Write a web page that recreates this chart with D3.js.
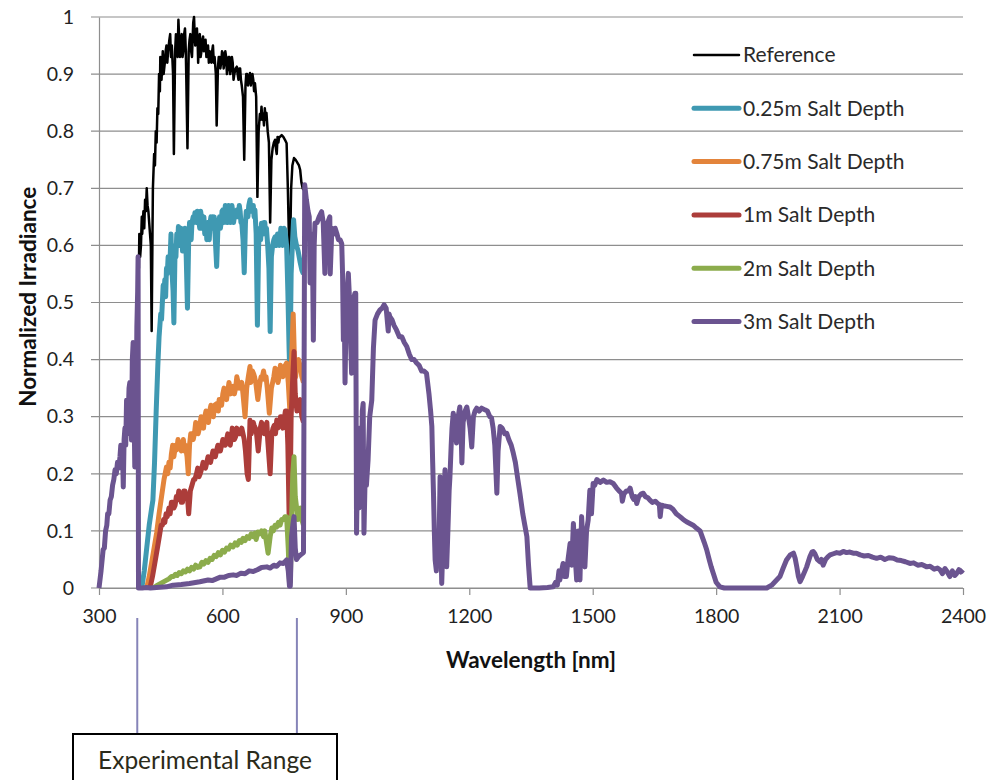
<!DOCTYPE html>
<html><head><meta charset="utf-8">
<script src="https://cdn.jsdelivr.net/npm/d3@7"></script>
<style>body{margin:0;background:#fff}svg{display:block}text{font-family:Lato,"Open Sans",sans-serif}</style>
</head><body>
<svg id="c" width="994" height="780"></svg>
<script>
const xTicks = [300,600,900,1200,1500,1800,2100,2400];
const yTicks = [0,0.1,0.2,0.3,0.4,0.5,0.6,0.7,0.8,0.9,1];
const seriesNames = ["Reference","0.25m Salt Depth","0.75m Salt Depth","1m Salt Depth","2m Salt Depth","3m Salt Depth"];
const seriesColors = ["#000000","#3f99b2","#e3843b","#ac3d3a","#8cac4c","#6b5490"];
const seriesWidths = [2.5,5,5,5,5,5];
const rangeBounds = [393,781];
const rangeLabel = "Experimental Range";

const reference = [[395,0.58],[397,0.56],[398,0.62],[400,0.58],[402,0.60],[404,0.65],[405,0.62],[408,0.66],[410,0.63],[412,0.68],[414,0.66],[416,0.70],[418,0.67],[420,0.66],[422,0.64],[424,0.62],[426,0.60],[428,0.45],[430,0.62],[431,0.70],[434,0.76],[436,0.74],[438,0.80],[440,0.78],[442,0.84],[444,0.83],[446,0.90],[448,0.87],[449,0.93],[451,0.91],[452,0.89],[455,0.94],[457,0.90],[460,0.92],[462,0.94],[464,0.95],[466,0.92],[468,0.94],[471,0.96],[473,0.97],[475,0.93],[477,0.95],[480,0.90],[482,0.76],[485,0.94],[487,0.97],[489,0.96],[491,0.93],[493,0.995],[495,0.96],[497,0.93],[499,0.96],[501,0.97],[503,0.93],[505,0.94],[507,0.97],[509,0.98],[511,0.94],[512,0.90],[515,0.77],[518,0.94],[520,0.96],[522,0.97],[524,0.94],[526,0.93],[529,0.99],[531,1.0],[533,0.96],[534,0.95],[536,0.97],[538,0.98],[540,0.95],[541,0.92],[543,0.96],[545,0.97],[547,0.93],[549,0.94],[551,0.96],[553,0.966],[555,0.94],[557,0.95],[559,0.96],[561,0.93],[563,0.94],[565,0.95],[567,0.92],[569,0.94],[571,0.93],[573,0.92],[575,0.94],[577,0.95],[579,0.92],[581,0.93],[583,0.91],[584,0.90],[586,0.81],[589,0.91],[591,0.93],[593,0.93],[595,0.91],[597,0.92],[599,0.94],[601,0.937],[603,0.91],[605,0.92],[607,0.94],[609,0.93],[611,0.90],[613,0.91],[615,0.93],[617,0.93],[619,0.90],[621,0.91],[623,0.93],[625,0.92],[627,0.89],[629,0.90],[632,0.91],[635,0.913],[637,0.90],[639,0.89],[641,0.91],[643,0.91],[645,0.89],[647,0.88],[650,0.86],[653,0.75],[656,0.88],[658,0.90],[660,0.90],[662,0.88],[664,0.89],[667,0.902],[669,0.88],[671,0.89],[673,0.90],[675,0.89],[677,0.87],[679,0.884],[682,0.86],[685,0.685],[688,0.80],[691,0.83],[693,0.82],[695,0.843],[697,0.82],[699,0.83],[701,0.81],[703,0.84],[705,0.82],[707,0.832],[710,0.80],[713,0.78],[716,0.64],[719,0.75],[722,0.77],[725,0.78],[728,0.785],[730,0.77],[732,0.76],[734,0.79],[736,0.78],[738,0.79],[740,0.79],[744,0.793],[748,0.79],[752,0.785],[756,0.779],[759,0.70],[762,0.60],[764,0.574],[767,0.70],[770,0.74],[774,0.753],[778,0.75],[782,0.745],[786,0.74],[789,0.732],[792,0.71],[795,0.70],[797,0.697]];

const salt025 = [[404,0],[410,0.03],[416,0.07],[422,0.11],[428,0.14],[431,0.154],[435,0.22],[439,0.31],[443,0.39],[446,0.44],[448,0.46],[450,0.48],[452,0.47],[454,0.50],[456,0.53],[458,0.52],[460,0.54],[462,0.51],[464,0.56],[466,0.55],[468,0.58],[470,0.57],[473,0.58],[475,0.62],[477,0.56],[480,0.52],[482,0.464],[485,0.60],[487,0.58],[489,0.62],[491,0.60],[493,0.633],[495,0.60],[497,0.61],[499,0.63],[501,0.62],[503,0.59],[505,0.60],[507,0.62],[509,0.63],[511,0.60],[512,0.58],[515,0.49],[518,0.61],[520,0.64],[522,0.63],[524,0.61],[526,0.64],[529,0.65],[531,0.64],[533,0.657],[535,0.65],[537,0.64],[539,0.66],[541,0.65],[543,0.64],[545,0.63],[547,0.66],[549,0.65],[551,0.63],[553,0.64],[555,0.65],[557,0.62],[560,0.64],[562,0.61],[564,0.64],[566,0.63],[568,0.61],[570,0.64],[572,0.65],[574,0.63],[576,0.65],[578,0.64],[580,0.65],[582,0.62],[586,0.563],[589,0.63],[591,0.64],[593,0.65],[595,0.63],[597,0.64],[599,0.66],[601,0.662],[603,0.64],[605,0.65],[607,0.67],[609,0.66],[611,0.64],[613,0.64],[615,0.67],[617,0.66],[619,0.64],[621,0.65],[623,0.67],[625,0.66],[627,0.64],[629,0.65],[632,0.66],[635,0.662],[637,0.65],[639,0.65],[641,0.67],[643,0.66],[645,0.64],[647,0.64],[650,0.61],[653,0.552],[656,0.64],[658,0.66],[660,0.66],[662,0.65],[664,0.67],[667,0.68],[669,0.66],[671,0.66],[673,0.67],[675,0.67],[677,0.65],[679,0.662],[682,0.62],[685,0.46],[688,0.60],[691,0.63],[693,0.61],[695,0.639],[697,0.62],[699,0.62],[701,0.64],[703,0.64],[705,0.62],[707,0.63],[710,0.60],[713,0.56],[716,0.449],[719,0.58],[722,0.60],[725,0.61],[728,0.615],[730,0.60],[732,0.60],[734,0.62],[736,0.62],[738,0.60],[740,0.61],[742,0.63],[744,0.62],[746,0.60],[748,0.61],[750,0.63],[752,0.627],[756,0.60],[759,0.52],[762,0.42],[764,0.37],[767,0.55],[770,0.60],[773,0.645],[776,0.615],[780,0.60],[784,0.59],[789,0.57],[793,0.557],[797,0.55]];

const salt075 = [[416,0],[422,0.02],[428,0.045],[434,0.07],[440,0.096],[446,0.13],[452,0.16],[458,0.19],[464,0.212],[467,0.20],[470,0.22],[473,0.21],[476,0.235],[479,0.25],[482,0.23],[486,0.25],[489,0.242],[492,0.26],[495,0.25],[500,0.24],[503,0.25],[505,0.26],[508,0.24],[510,0.25],[514,0.23],[517,0.20],[520,0.25],[523,0.27],[526,0.27],[529,0.26],[532,0.27],[535,0.29],[538,0.28],[541,0.27],[545,0.283],[548,0.30],[551,0.29],[554,0.28],[557,0.30],[560,0.31],[563,0.295],[566,0.29],[569,0.31],[572,0.32],[575,0.31],[578,0.30],[581,0.32],[586,0.323],[590,0.31],[592,0.33],[595,0.33],[598,0.32],[601,0.34],[604,0.35],[607,0.335],[610,0.33],[613,0.345],[616,0.36],[620,0.34],[623,0.35],[626,0.353],[629,0.34],[632,0.35],[635,0.37],[638,0.36],[641,0.35],[644,0.355],[647,0.36],[650,0.34],[655,0.30],[659,0.35],[663,0.37],[667,0.388],[669,0.36],[671,0.37],[673,0.38],[676,0.375],[678,0.37],[681,0.36],[686,0.33],[691,0.359],[694,0.37],[697,0.37],[700,0.38],[703,0.365],[706,0.37],[709,0.35],[714,0.306],[719,0.35],[722,0.36],[725,0.37],[728,0.385],[732,0.382],[735,0.36],[738,0.37],[741,0.39],[744,0.385],[747,0.37],[750,0.38],[753,0.39],[756,0.394],[760,0.36],[764,0.31],[768,0.40],[772,0.48],[775,0.40],[778,0.37],[780,0.39],[785,0.40],[789,0.388],[793,0.37],[797,0.36]];

const salt1 = [[424,0],[430,0.02],[436,0.045],[442,0.07],[448,0.096],[451,0.11],[454,0.11],[457,0.12],[460,0.115],[463,0.13],[466,0.125],[470,0.14],[473,0.13],[476,0.15],[479,0.15],[482,0.14],[485,0.145],[488,0.16],[491,0.155],[494,0.17],[497,0.16],[500,0.15],[503,0.15],[506,0.17],[509,0.17],[512,0.16],[515,0.16],[518,0.13],[522,0.17],[526,0.18],[530,0.19],[533,0.19],[537,0.20],[540,0.21],[543,0.195],[546,0.20],[550,0.21],[553,0.22],[556,0.215],[559,0.21],[562,0.22],[565,0.23],[568,0.225],[571,0.22],[574,0.23],[577,0.24],[580,0.235],[583,0.23],[586,0.242],[589,0.25],[592,0.24],[595,0.24],[598,0.25],[601,0.26],[604,0.255],[607,0.25],[610,0.26],[613,0.27],[616,0.265],[619,0.25],[621,0.26],[624,0.28],[626,0.271],[629,0.26],[632,0.265],[635,0.28],[638,0.275],[641,0.27],[644,0.27],[647,0.28],[650,0.27],[653,0.26],[656,0.24],[660,0.20],[663,0.19],[667,0.294],[670,0.27],[672,0.28],[675,0.29],[677,0.285],[680,0.28],[683,0.27],[687,0.24],[692,0.28],[695,0.29],[699,0.283],[702,0.27],[705,0.28],[708,0.29],[710,0.26],[714,0.22],[716,0.20],[720,0.27],[723,0.28],[726,0.285],[729,0.27],[732,0.294],[735,0.28],[738,0.285],[741,0.30],[744,0.30],[747,0.28],[750,0.295],[753,0.31],[756,0.31],[759,0.25],[762,0.13],[764,0.13],[767,0.30],[771,0.37],[774,0.414],[777,0.34],[781,0.31],[785,0.32],[789,0.33],[793,0.30],[797,0.29]];

const salt2 = [[432,0],[440,0.004],[450,0.008],[460,0.012],[470,0.016],[476,0.02],[481,0.02],[486,0.024],[490,0.022],[495,0.027],[500,0.025],[505,0.03],[510,0.028],[515,0.033],[520,0.03],[525,0.036],[530,0.033],[535,0.04],[540,0.036],[545,0.037],[550,0.045],[555,0.042],[560,0.048],[565,0.045],[570,0.052],[575,0.05],[580,0.057],[585,0.055],[590,0.062],[595,0.058],[600,0.066],[605,0.063],[610,0.07],[615,0.068],[620,0.075],[626,0.072],[631,0.079],[636,0.075],[641,0.083],[646,0.08],[650,0.087],[655,0.083],[660,0.09],[665,0.087],[670,0.095],[675,0.09],[679,0.096],[682,0.085],[686,0.098],[690,0.095],[695,0.1],[700,0.09],[703,0.1],[706,0.085],[711,0.061],[716,0.09],[720,0.105],[724,0.10],[728,0.11],[732,0.107],[736,0.115],[740,0.11],[744,0.12],[748,0.12],[752,0.125],[756,0.125],[760,0.07],[763,0.01],[765,0.01],[768,0.12],[771,0.20],[774,0.23],[777,0.16],[780,0.142],[783,0.12],[786,0.13],[790,0.14],[793,0.12],[797,0.11]];

const salt3 = [[300,0],[305,0.03],[310,0.067],[313,0.07],[316,0.10],[319,0.11],[321,0.13],[324,0.13],[327,0.154],[330,0.16],[333,0.18],[336,0.19],[339,0.207],[342,0.2],[345,0.22],[348,0.21],[351,0.23],[353,0.25],[355,0.21],[357,0.25],[359,0.177],[361,0.26],[363,0.28],[365,0.25],[367,0.329],[369,0.27],[371,0.30],[373,0.35],[375,0.36],[377,0.30],[379,0.259],[381,0.40],[383,0.43],[385,0.33],[387,0.212],[388,0.40],[390,0.42],[391,0.36],[392,0.457],[394,0.52],[395,0.58],[396,0],[405,0],[415,0.001],[425,0],[440,0.001],[464,0.002],[480,0.005],[500,0.006],[520,0.008],[545,0.011],[565,0.014],[575,0.013],[585,0.016],[595,0.019],[605,0.019],[615,0.022],[626,0.023],[635,0.022],[645,0.026],[655,0.025],[665,0.03],[675,0.029],[685,0.032],[695,0.036],[708,0.037],[716,0.035],[725,0.04],[732,0.038],[740,0.044],[748,0.043],[756,0.049],[760,0.03],[763,0.003],[765,0.003],[768,0.09],[771,0.11],[774,0.125],[777,0.07],[780,0.05],[785,0.055],[790,0.058],[797,0.062],[800,0.706],[804,0.68],[808,0.66],[811,0.65],[813,0.534],[816,0.62],[819,0.58],[821,0.434],[823,0.60],[825,0.639],[830,0.64],[835,0.65],[841,0.659],[845,0.64],[849,0.551],[852,0.62],[856,0.64],[861,0.65],[862,0.55],[866,0.63],[870,0.62],[874,0.63],[878,0.621],[882,0.61],[886,0.61],[890,0.603],[892,0.55],[894,0.434],[896,0.50],[898,0.359],[901,0.50],[904,0.53],[906,0.551],[908,0.52],[910,0.487],[912,0.42],[914,0.376],[917,0.47],[920,0.51],[922,0.516],[924,0.516],[926,0.096],[929,0.25],[932,0.14],[935,0.28],[938,0.20],[940,0.31],[942,0.323],[944,0.096],[947,0.20],[950,0.18],[954,0.224],[958,0.30],[963,0.329],[967,0.42],[971,0.469],[977,0.48],[983,0.487],[988,0.49],[993,0.496],[998,0.49],[1003,0.45],[1005,0.48],[1007,0.475],[1012,0.47],[1017,0.46],[1023,0.452],[1030,0.44],[1036,0.44],[1042,0.43],[1048,0.423],[1054,0.41],[1060,0.40],[1066,0.40],[1072,0.394],[1078,0.39],[1084,0.38],[1090,0.38],[1096,0.376],[1102,0.34],[1106,0.31],[1109,0.283],[1111,0.22],[1113,0.166],[1115,0.10],[1117,0.049],[1120,0.03],[1123,0.10],[1126,0.05],[1129,0.195],[1131,0.10],[1133,0.008],[1136,0.08],[1139,0.17],[1141,0.207],[1143,0.12],[1145,0.037],[1148,0.10],[1151,0.17],[1153,0.195],[1156,0.25],[1158,0.28],[1161,0.306],[1165,0.29],[1169,0.254],[1173,0.30],[1177,0.317],[1180,0.28],[1182,0.219],[1185,0.29],[1190,0.31],[1194,0.317],[1198,0.30],[1202,0.28],[1206,0.247],[1210,0.30],[1214,0.31],[1218,0.315],[1224,0.31],[1230,0.315],[1238,0.312],[1244,0.31],[1250,0.30],[1254,0.298],[1258,0.28],[1262,0.25],[1265,0.20],[1267,0.166],[1270,0.24],[1275,0.283],[1280,0.28],[1286,0.27],[1291,0.271],[1296,0.26],[1302,0.25],[1307,0.236],[1312,0.22],[1318,0.19],[1323,0.166],[1330,0.13],[1335,0.11],[1340,0.09],[1344,0.04],[1348,0],[1370,0],[1390,0.001],[1404,0.002],[1410,0.01],[1414,0.005],[1418,0.03],[1420,0.014],[1428,0.043],[1432,0.02],[1436,0.02],[1440,0.05],[1445,0.078],[1449,0.04],[1453,0.113],[1457,0.06],[1461,0.014],[1465,0.1],[1469,0.014],[1473,0.125],[1477,0.07],[1481,0.037],[1485,0.10],[1489,0.119],[1493,0.171],[1497,0.13],[1501,0.183],[1505,0.18],[1510,0.19],[1518,0.185],[1526,0.189],[1534,0.185],[1542,0.186],[1550,0.183],[1558,0.175],[1564,0.17],[1570,0.166],[1572,0.152],[1576,0.165],[1582,0.17],[1587,0.17],[1591,0.175],[1596,0.16],[1600,0.155],[1604,0.16],[1607,0.148],[1612,0.16],[1618,0.165],[1623,0.166],[1628,0.16],[1634,0.158],[1639,0.154],[1645,0.15],[1652,0.152],[1658,0.148],[1662,0.146],[1664,0.125],[1667,0.145],[1672,0.144],[1680,0.143],[1688,0.142],[1695,0.138],[1703,0.13],[1712,0.125],[1720,0.12],[1728,0.116],[1736,0.113],[1744,0.11],[1752,0.105],[1761,0.1],[1766,0.09],[1771,0.08],[1777,0.067],[1783,0.05],[1788,0.037],[1793,0.026],[1800,0.01],[1809,0.002],[1820,0],[1860,0],[1900,0],[1923,0],[1935,0.005],[1947,0.014],[1955,0.02],[1963,0.035],[1971,0.049],[1980,0.058],[1988,0.061],[1992,0.052],[1996,0.037],[2000,0.02],[2004,0.011],[2010,0.02],[2016,0.03],[2020,0.037],[2028,0.055],[2033,0.063],[2036,0.064],[2040,0.06],[2046,0.05],[2052,0.046],[2056,0.05],[2060,0.04],[2066,0.05],[2072,0.055],[2077,0.058],[2085,0.06],[2093,0.062],[2101,0.061],[2109,0.064],[2117,0.062],[2125,0.063],[2133,0.061],[2141,0.061],[2150,0.058],[2160,0.056],[2170,0.057],[2180,0.054],[2190,0.052],[2200,0.054],[2210,0.05],[2220,0.053],[2231,0.052],[2240,0.049],[2250,0.048],[2260,0.046],[2271,0.043],[2280,0.044],[2290,0.04],[2300,0.041],[2312,0.037],[2320,0.038],[2330,0.033],[2338,0.035],[2344,0.032],[2350,0.025],[2356,0.034],[2362,0.028],[2368,0.02],[2374,0.03],[2380,0.022],[2384,0.025],[2390,0.032],[2395,0.028],[2400,0.032]];

const seriesData = [reference, salt025, salt075, salt1, salt2, salt3];

const svg = d3.select("#c");
const M = {left:99, top:17, right:31, bottom:192};
const W = 994 - M.left - M.right, H = 780 - M.top - M.bottom;
const x = d3.scaleLinear().domain([300,2400]).range([M.left, M.left+W]);
const y = d3.scaleLinear().domain([0,1]).range([M.top+H, M.top]);

// gridlines
svg.append("g").selectAll("line").data(yTicks).join("line")
  .attr("x1", M.left-8).attr("x2", M.left+W)
  .attr("y1", d=>y(d)).attr("y2", d=>y(d))
  .attr("stroke", "#8e8e8e").attr("stroke-width", 1.2);

// y axis
const ya = svg.append("g").attr("transform", `translate(${M.left},0)`)
  .call(d3.axisLeft(y).tickValues(yTicks).tickSize(0).tickPadding(25).tickFormat(d3.format("~g")));
ya.select(".domain").attr("stroke", "#8e8e8e").attr("stroke-width", 1.2);
ya.selectAll("text").attr("font-size", 19.5).attr("fill", "#222").attr("font-family","Lato");

// x axis
const xa = svg.append("g").attr("transform", `translate(0,${M.top+H})`)
  .call(d3.axisBottom(x).tickValues(xTicks).tickSize(7).tickPadding(14).tickSizeOuter(0).tickFormat(d3.format("d")));
xa.select(".domain").attr("stroke", "#8e8e8e").attr("stroke-width", 1.2);
xa.selectAll(".tick line").attr("stroke", "#8e8e8e").attr("stroke-width", 1.2);
xa.selectAll("text").attr("font-size", 19.5).attr("fill", "#222").attr("font-family","Lato");

// series
const line = d3.line().x(d=>x(d[0])).y(d=>y(d[1])).curve(d3.curveLinear);
seriesData.forEach((data,i)=>{
  svg.append("path").datum(data).attr("d", line)
    .attr("fill","none").attr("stroke", seriesColors[i])
    .attr("stroke-width", seriesWidths[i]).attr("stroke-linejoin","round");
});

// axis titles
svg.append("text").attr("x", x(1350)).attr("y", 668).attr("text-anchor","middle")
  .attr("font-size", 22.5).attr("font-weight","bold").attr("fill","#111").text("Wavelength [nm]");
svg.append("text").attr("transform", `translate(36,${y(0.51)}) rotate(-90)`).attr("text-anchor","middle")
  .attr("font-size", 22.5).attr("font-weight","bold").attr("fill","#111").text("Normalized Irradiance");

// legend
const lg = svg.append("g");
seriesNames.forEach((n,i)=>{
  const ly = 55 + i*53.3;
  lg.append("line").attr("x1",694).attr("x2",739).attr("y1",ly).attr("y2",ly)
    .attr("stroke", seriesColors[i]).attr("stroke-width", seriesWidths[i]).attr("stroke-linecap","round");
  lg.append("text").attr("x",743).attr("y",ly).attr("dy","0.35em")
    .attr("font-size",21).attr("fill","#2a2a2a").text(n);
});

// experimental range annotation
svg.append("g").selectAll("line").data(rangeBounds).join("line")
  .attr("x1", d=>x(d)).attr("x2", d=>x(d)).attr("y1", 618).attr("y2", 733)
  .attr("stroke", "#8684b8").attr("stroke-width", 2);
svg.append("rect").attr("x",73).attr("y",734).attr("width",264).attr("height",60)
  .attr("fill","#fff").attr("stroke","#000").attr("stroke-width",2);
svg.append("text").attr("x",205).attr("y",760).attr("dy","0.35em").attr("text-anchor","middle")
  .attr("font-size",24.5).attr("fill","#2b2b1a").text(rangeLabel);
</script>
</body></html>
